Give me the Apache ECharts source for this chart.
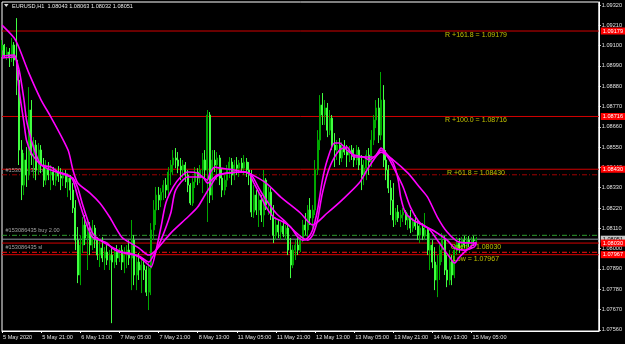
<!DOCTYPE html>
<html><head><meta charset="utf-8">
<script src="https://cdn.jsdelivr.net/npm/echarts@6/dist/echarts.min.js"></script>
<style>html,body{margin:0;padding:0;background:#000}#c{width:625px;height:344px}</style>
</head><body><div id="c"></div>
<script>
const F = 'Liberation Sans';
const titleText = 'EURUSD,H1  1.08043 1.08063 1.08032 1.08051';
const xTicks = ['5 May 2020','5 May 21:00','6 May 13:00','7 May 05:00','7 May 21:00','8 May 13:00','11 May 05:00','11 May 21:00','12 May 13:00','13 May 05:00','13 May 21:00','14 May 13:00','15 May 05:00'];
const yTicks = [1.07560,1.07670,1.07780,1.07890,1.08000,1.08110,1.08220,1.08330,1.08440,1.08550,1.08660,1.08770,1.08880,1.08990,1.09100,1.09210,1.09320];
// [open, close, low, high]
const candles = [
[1.09076,1.09103,1.09038,1.09130],[1.09103,1.09049,1.09033,1.09109],[1.09049,1.09065,1.09022,1.09092],[1.09065,1.09033,1.08984,1.09087],
[1.09033,1.09103,1.09011,1.09141],[1.09103,1.09022,1.08989,1.09119],[1.09022,1.08913,1.08832,1.09249],[1.08913,1.08534,1.08453,1.08968],
[1.08534,1.08344,1.08263,1.08588],[1.08344,1.08480,1.08290,1.08518],[1.08480,1.08399,1.08334,1.08550],[1.08399,1.08751,1.08371,1.08875],
[1.08751,1.08507,1.08453,1.08805],[1.08507,1.08561,1.08382,1.08604],[1.08561,1.08426,1.08371,1.08588],[1.08426,1.08534,1.08399,1.08572],
[1.08534,1.08453,1.08409,1.08561],[1.08453,1.08371,1.08334,1.08491],[1.08371,1.08436,1.08344,1.08480],[1.08436,1.08399,1.08371,1.08469],
[1.08399,1.08415,1.08317,1.08453],[1.08415,1.08371,1.08344,1.08442],[1.08371,1.08415,1.08339,1.08436],[1.08415,1.08393,1.08361,1.08447],
[1.08393,1.08382,1.08317,1.08436],[1.08382,1.08404,1.08339,1.08426],[1.08404,1.08361,1.08328,1.08426],[1.08361,1.08382,1.08279,1.08409],
[1.08382,1.08317,1.08263,1.08399],[1.08317,1.08220,1.08193,1.08355],[1.08220,1.08046,1.07992,1.08263],[1.08046,1.07857,1.07813,1.08117],
[1.07857,1.08019,1.07802,1.08073],[1.08019,1.08128,1.07976,1.08171],[1.08128,1.08057,1.08019,1.08182],[1.08057,1.08090,1.07884,1.08155],
[1.08090,1.08019,1.07965,1.08144],[1.08019,1.08111,1.07992,1.08155],[1.08111,1.08046,1.08003,1.08128],[1.08046,1.07965,1.07938,1.08062],
[1.07965,1.08003,1.07900,1.08046],[1.08003,1.07949,1.07927,1.08062],[1.07949,1.07981,1.07884,1.08008],[1.07981,1.07938,1.07911,1.08019],
[1.07938,1.07965,1.07884,1.07992],[1.07965,1.07927,1.07596,1.08003],[1.07927,1.07981,1.07894,1.07992],[1.07981,1.07949,1.07911,1.08019],
[1.07949,1.07992,1.07927,1.08003],[1.07992,1.07927,1.07884,1.08019],[1.07927,1.07965,1.07867,1.08008],[1.07965,1.07992,1.07894,1.08019],
[1.07992,1.07949,1.07911,1.08046],[1.07949,1.08046,1.07775,1.08155],[1.08046,1.07857,1.07802,1.08073],[1.07857,1.07927,1.07775,1.07965],
[1.07927,1.07884,1.07830,1.07976],[1.07884,1.07911,1.07759,1.07949],[1.07911,1.07884,1.07830,1.07949],[1.07884,1.07764,1.07743,1.07905],
[1.07764,1.07894,1.07667,1.07927],[1.07894,1.08101,1.07748,1.08138],[1.08101,1.08209,1.08046,1.08263],[1.08209,1.08290,1.08128,1.08334],
[1.08290,1.08263,1.08209,1.08334],[1.08263,1.08306,1.08225,1.08328],[1.08306,1.08344,1.08263,1.08371],[1.08344,1.08317,1.08274,1.08382],
[1.08317,1.08415,1.08290,1.08442],[1.08415,1.08453,1.08344,1.08480],[1.08453,1.08491,1.08399,1.08534],[1.08491,1.08480,1.08436,1.08545],
[1.08480,1.08447,1.08409,1.08523],[1.08447,1.08426,1.08371,1.08491],[1.08426,1.08453,1.08382,1.08480],[1.08453,1.08399,1.08361,1.08469],
[1.08399,1.08344,1.08306,1.08426],[1.08344,1.08247,1.08236,1.08355],[1.08247,1.08361,1.08231,1.08382],[1.08361,1.08415,1.08328,1.08442],
[1.08415,1.08382,1.08344,1.08436],[1.08382,1.08426,1.08355,1.08453],[1.08426,1.08480,1.08301,1.08518],[1.08480,1.08426,1.08371,1.08534],
[1.08426,1.08724,1.08144,1.08751],[1.08724,1.08290,1.08247,1.08740],[1.08290,1.08480,1.08263,1.08534],[1.08480,1.08453,1.08415,1.08534],
[1.08453,1.08491,1.08371,1.08523],[1.08491,1.08382,1.08344,1.08507],[1.08382,1.08317,1.08279,1.08436],[1.08317,1.08371,1.08290,1.08399],
[1.08371,1.08426,1.08334,1.08453],[1.08426,1.08469,1.08382,1.08496],[1.08469,1.08399,1.08344,1.08491],[1.08399,1.08453,1.08371,1.08480],
[1.08453,1.08436,1.08399,1.08496],[1.08436,1.08464,1.08388,1.08480],[1.08464,1.08436,1.08415,1.08491],[1.08436,1.08469,1.08399,1.08507],
[1.08469,1.08426,1.08388,1.08491],[1.08426,1.08399,1.08344,1.08469],[1.08399,1.08198,1.08171,1.08426],[1.08198,1.08290,1.08166,1.08344],
[1.08290,1.08209,1.08182,1.08317],[1.08209,1.08263,1.08117,1.08301],[1.08263,1.08182,1.08144,1.08290],[1.08182,1.08371,1.08117,1.08426],
[1.08371,1.08236,1.08209,1.08382],[1.08236,1.08306,1.08182,1.08334],[1.08306,1.08182,1.08155,1.08328],[1.08182,1.08073,1.08030,1.08236],
[1.08073,1.08128,1.08046,1.08171],[1.08128,1.08090,1.08057,1.08155],[1.08090,1.08122,1.08046,1.08144],[1.08122,1.08079,1.08062,1.08155],
[1.08079,1.08111,1.08046,1.08128],[1.08111,1.07992,1.07965,1.08128],[1.07992,1.07911,1.07840,1.08057],[1.07911,1.07992,1.07894,1.08019],
[1.07992,1.08019,1.07938,1.08046],[1.08019,1.07992,1.07965,1.08062],[1.07992,1.08057,1.07981,1.08073],[1.08057,1.08128,1.08035,1.08155],
[1.08128,1.08101,1.08073,1.08193],[1.08101,1.08209,1.08062,1.08236],[1.08209,1.08166,1.08128,1.08274],[1.08166,1.08209,1.08101,1.08236],
[1.08209,1.08426,1.08182,1.08480],[1.08426,1.08588,1.08399,1.08642],[1.08588,1.08778,1.08534,1.08832],[1.08778,1.08724,1.08670,1.08843],
[1.08724,1.08762,1.08670,1.08805],[1.08762,1.08642,1.08604,1.08789],[1.08642,1.08707,1.08615,1.08751],[1.08707,1.08561,1.08534,1.08724],
[1.08561,1.08534,1.08442,1.08626],[1.08534,1.08561,1.08480,1.08588],[1.08561,1.08491,1.08453,1.08599],[1.08491,1.08545,1.08469,1.08577],
[1.08545,1.08523,1.08507,1.08588],[1.08523,1.08507,1.08442,1.08561],[1.08507,1.08534,1.08469,1.08556],[1.08534,1.08507,1.08480,1.08561],
[1.08507,1.08480,1.08442,1.08545],[1.08480,1.08534,1.08453,1.08561],[1.08534,1.08453,1.08426,1.08550],[1.08453,1.08399,1.08317,1.08507],
[1.08399,1.08436,1.08344,1.08480],[1.08436,1.08507,1.08371,1.08534],[1.08507,1.08469,1.08399,1.08545],[1.08469,1.08588,1.08442,1.08642],
[1.08588,1.08697,1.08561,1.08724],[1.08697,1.08762,1.08653,1.08805],[1.08762,1.08615,1.08572,1.08816],[1.08615,1.08805,1.08588,1.08957],
[1.08805,1.08480,1.08442,1.08886],[1.08480,1.08426,1.08371,1.08534],[1.08426,1.08328,1.08301,1.08453],[1.08328,1.08263,1.08182,1.08371],
[1.08263,1.08155,1.08117,1.08355],[1.08155,1.08198,1.08128,1.08220],[1.08198,1.08166,1.08144,1.08236],[1.08166,1.08182,1.08117,1.08209],
[1.08182,1.08198,1.08144,1.08220],[1.08198,1.08155,1.08128,1.08209],[1.08155,1.08176,1.08101,1.08193],[1.08176,1.08111,1.08084,1.08209],
[1.08111,1.08144,1.08090,1.08166],[1.08144,1.08122,1.08101,1.08182],[1.08122,1.08073,1.08046,1.08155],[1.08073,1.08111,1.08030,1.08144],
[1.08111,1.08068,1.08046,1.08138],[1.08068,1.08101,1.08046,1.08193],[1.08101,1.07992,1.07965,1.08111],[1.07992,1.08019,1.07884,1.08084],
[1.08019,1.07927,1.07894,1.08046],[1.07927,1.07830,1.07775,1.08008],[1.07830,1.07911,1.07737,1.07965],[1.07911,1.07992,1.07830,1.08019],
[1.07992,1.08046,1.07927,1.08084],[1.08046,1.07884,1.07857,1.08068],[1.07884,1.07830,1.07791,1.07965],[1.07830,1.07927,1.07802,1.07992],
[1.07927,1.07857,1.07802,1.07965],[1.07857,1.07992,1.07840,1.08019],[1.07992,1.08030,1.07965,1.08062],[1.08030,1.08003,1.07976,1.08057],
[1.08003,1.08046,1.07992,1.08062],[1.08046,1.08019,1.08003,1.08068],[1.08019,1.08046,1.07992,1.08062],[1.08046,1.08030,1.08008,1.08068],
[1.08030,1.08046,1.08003,1.08062],[1.08046,1.08043,1.08014,1.08068],[1.08043,1.08051,1.08032,1.08063]
];
// moving averages read as [bar index, price]
const maSlow = [[0,1.09211],[5,1.09141],[7,1.09087],[11,1.08951],[16,1.08805],[20,1.08713],[27,1.08534],[29,1.08426],[31,1.08355],[36,1.08301],[40,1.08247],[44,1.08171],[49,1.08062],[54,1.08019],[56,1.08003],[60,1.07965],[63,1.07992],[69,1.08084],[76,1.08171],[80,1.08225],[83,1.08290],[86,1.08355],[88,1.08393],[92,1.08409],[99,1.08415],[101,1.08409],[108,1.08355],[114,1.08279],[122,1.08193],[127,1.08128],[133,1.08193],[139,1.08263],[146,1.08355],[150,1.08442],[155,1.08523],[160,1.08480],[166,1.08409],[171,1.08328],[174,1.08279],[178,1.08171],[182,1.08090],[187,1.08035],[194,1.08030]];
const maFast = [[0,1.09043],[5,1.09049],[6,1.09011],[7,1.08859],[9,1.08680],[10,1.08588],[12,1.08518],[14,1.08480],[16,1.08453],[20,1.08442],[23,1.08415],[27,1.08399],[29,1.08371],[31,1.08279],[33,1.08193],[35,1.08117],[37,1.08062],[40,1.08046],[43,1.08030],[45,1.08003],[48,1.07981],[52,1.07976],[56,1.07954],[60,1.07911],[61,1.07900],[63,1.07992],[65,1.08117],[67,1.08247],[70,1.08334],[73,1.08388],[76,1.08415],[80,1.08409],[82,1.08388],[84,1.08371],[85,1.08409],[87,1.08442],[89,1.08436],[95,1.08426],[99,1.08415],[101,1.08409],[103,1.08355],[106,1.08279],[108,1.08225],[111,1.08171],[115,1.08144],[118,1.08117],[121,1.08062],[123,1.08046],[125,1.08057],[127,1.08101],[129,1.08209],[131,1.08371],[133,1.08480],[136,1.08572],[138,1.08572],[141,1.08534],[144,1.08507],[148,1.08496],[150,1.08480],[153,1.08507],[155,1.08545],[157,1.08518],[160,1.08464],[162,1.08371],[163,1.08279],[165,1.08193],[168,1.08155],[172,1.08128],[175,1.08101],[178,1.08046],[180,1.08008],[183,1.07954],[185,1.07922],[187,1.07954],[190,1.07992],[194,1.08035]];
const maMid = [[0,1.09033],[5,1.09038],[7,1.08968],[9,1.08805],[10,1.08697],[12,1.08588],[14,1.08507],[16,1.08453],[20,1.08426],[27,1.08393],[29,1.08382],[31,1.08328],[33,1.08236],[35,1.08155],[37,1.08084],[40,1.08046],[45,1.08008],[50,1.07976],[56,1.07960],[60,1.07927],[62,1.07965],[65,1.08046],[69,1.08193],[71,1.08317],[76,1.08388],[82,1.08388],[84,1.08355],[88,1.08399],[92,1.08409],[99,1.08415],[102,1.08399],[105,1.08328],[108,1.08263],[112,1.08193],[116,1.08144],[120,1.08090],[123,1.08057],[125,1.08046],[127,1.08073],[129,1.08155],[131,1.08301],[134,1.08442],[138,1.08534],[141,1.08550],[144,1.08496],[148,1.08496],[152,1.08496],[155,1.08534],[158,1.08491],[160,1.08442],[164,1.08334],[167,1.08225],[171,1.08138],[176,1.08101],[182,1.08046],[185,1.08003],[189,1.07992],[193,1.08008],[194,1.08030]];
const fibNames = ['R +161.8','R +100.0','R +61.8'];
const fibPrices = [1.09179,1.08716,1.08430];
const tradeNames = ['Open','Low'];
const tradePrices = [1.08030,1.07967];
const orderNames = ['#153086435 tp','#153086435 buy 2.00','#153086435 sl'];
const orderPrices = [1.08400,1.08072,1.07980];
const bidPrice = 1.08051;

const NBARS = 245;
const cats = Array.from({length:NBARS},(_, i)=> (i % 16 === 0 && xTicks[i/16]) ? xTicks[i/16] : '');
const showTick = (i)=> i % 16 === 0 && i/16 < xTicks.length;

const dd = [5,2,1,2];
function hline(v, color, type, boxBg, boxText){
  return {type:'line', data:[[0, v],[NBARS-1, v]], symbol:'none', silent:true, clip:false, z:1,
    lineStyle:{color:color, type:type, width:1},
    endLabel: boxBg ? {show:true, distance:2, formatter:v.toFixed(5), color:boxText,
      backgroundColor:boxBg, padding:[1,2,0,2], fontSize:5.6, fontFamily:F} : {show:false}};
}
const lineSeries = [
  hline(fibPrices[0],'#d40000','solid','#ff0000','#fff'),
  hline(fibPrices[1],'#d40000','solid','#ff0000','#fff'),
  hline(fibPrices[2],'#d40000','solid','#ff0000','#fff'),
  hline(orderPrices[0],'#a00000',dd),
  hline(orderPrices[1],'#2e9e2e',dd),
  hline(bidPrice,'#8c96a0','solid','#c8c8c8','#000'),
  hline(tradePrices[0],'#d40000','solid','#ff0000','#fff'),
  hline(orderPrices[2],'#ff1010',dd),
  hline(tradePrices[1],'#e00000','solid','#ff0000','#fff')
];
const lastIdx = candles.length - 1;
const textData = fibNames.map((n,i)=>({value:[lastIdx, fibPrices[i]], text:n + ' = ' + fibPrices[i].toFixed(5)}))
  .concat(tradeNames.map((n,i)=>({value:[lastIdx, tradePrices[i]], text:n + ' = ' + tradePrices[i].toFixed(5)})));
const orderData = orderNames.map((n,i)=>({value:[0, orderPrices[i]], text:n}));

const chart = echarts.init(document.getElementById('c'), null, {renderer:'canvas'});
const maStyle = {type:'line', symbol:'none', smooth:0.25, z:5, silent:true, lineStyle:{color:'#ff00ff', width:1.6}};
chart.setOption({
  animation:false,
  backgroundColor:'#000',
  grid:{left:2, right:25, top:2, bottom:13, show:true, borderColor:'#ffffff', borderWidth:1},
  xAxis:{type:'category', data:cats, boundaryGap:false,
    axisLine:{lineStyle:{color:'#fff'}},
    axisTick:{interval:showTick, length:2, lineStyle:{color:'#fff'}},
    axisLabel:{interval:showTick, color:'#e0e0e0', fontSize:5.6, fontFamily:F, align:'left', margin:3, padding:[0,0,0,1]},
    splitLine:{show:false}},
  yAxis:{type:'value', position:'right', min:1.075535, max:1.093363,
    axisLine:{show:true, lineStyle:{color:'#fff'}},
    axisTick:{show:true, customValues:yTicks, length:2, lineStyle:{color:'#fff'}},
    axisLabel:{customValues:yTicks, formatter:(v)=>Number(v).toFixed(5), color:'#e0e0e0', fontSize:5.6, fontFamily:F, margin:3},
    splitLine:{show:false}},
  graphic:[
    {type:'polygon', shape:{points:[[4,4],[8.5,4],[6.25,7]]}, style:{fill:'#dddddd'}},
    {type:'text', left:12, top:3, style:{text:titleText, fill:'#e8e8e8', font:'5.6px "Liberation Sans"'}}
  ],
  series: lineSeries.concat([
    {type:'scatter', data:orderData, symbolSize:1, z:2, silent:true, clip:false,
      itemStyle:{color:'rgba(0,0,0,0)'},
      label:{show:true, position:[4,-1], align:'left', verticalAlign:'bottom', color:'#c8c8c8', fontSize:5.6, fontFamily:F, formatter:(p)=>p.data.text}},
    {type:'candlestick', data:candles, barWidth:1.5, z:3, silent:true,
      itemStyle:{color:'#006a00', color0:'#c0ffb0', borderColor:'#00a800', borderColor0:'#40ff40', borderWidth:1}},
    {type:'scatter', data:textData, symbolSize:1, z:4, silent:true, clip:false,
      itemStyle:{color:'rgba(0,0,0,0)'},
      label:{show:true, position:[0,1], align:'center', verticalAlign:'top', color:'#e8e800', fontSize:7, fontFamily:F, formatter:(p)=>p.data.text}},
    Object.assign({data:maSlow}, maStyle),
    Object.assign({data:maMid}, maStyle),
    Object.assign({data:maFast}, maStyle)
  ])
});
</script></body></html>
